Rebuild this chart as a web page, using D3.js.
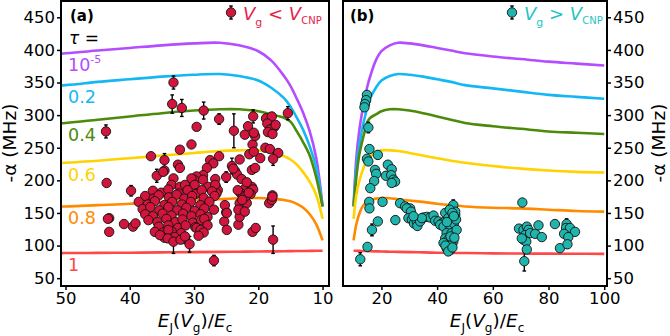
<!DOCTYPE html>
<html>
<head>
<meta charset="utf-8">
<script src="https://cdn.jsdelivr.net/npm/d3@7"></script>
<style>
  body { margin: 0; background: #fff; }
  text { font-family: "DejaVu Sans", sans-serif; }
</style>
</head>
<body>
<svg id="chart" width="670" height="336"></svg>
<script>
// tau values of the model curves (label text, superscript)
const tauLabels = [["10", "-5"], ["0.2", ""], ["0.4", ""], ["0.6", ""], ["0.8", ""], ["1", ""]];

// model curves: -alpha (MHz) sampled at these EJ/Ec values
const curveX = [10, 11, 12, 13, 14, 15, 16, 18, 20, 23, 26, 30, 35, 40, 45, 50, 60, 70, 80, 90, 100];
const curvePurple = [160, 235, 275, 303, 325, 345, 360, 384, 398, 407, 411, 410, 407, 403, 399, 395, 390, 386, 382, 379, 376];
const curveCyan   = [160, 220, 252, 277, 296, 313, 326, 342, 353, 360, 363, 362, 359, 355, 351, 346, 341, 336, 331, 328, 325];
const curveGreen  = [160, 205, 238, 258, 275, 290, 296, 301, 306, 309, 309, 307, 303, 298, 293, 288, 283, 279, 275, 273, 271];
const curveYellow = [141, 178, 198, 212, 224, 232, 237, 243, 246, 246, 245, 242, 238, 234, 230, 227, 222, 218, 215, 213, 212];
const curveOrange = [108, 133, 148, 158, 164, 168, 170, 172, 173, 172.5, 171, 169, 167, 164, 162, 160, 158, 157, 155, 153, 152];
const curveRed    = [92, 92, 91.8, 91.7, 91.6, 91.5, 91.3, 91.1, 91, 90.6, 90.3, 90, 89.5, 89, 88.8, 88.5, 88.1, 87.8, 87.6, 87.4, 87.3];
const curveAlpha = [curvePurple, curveCyan, curveGreen, curveYellow, curveOrange, curveRed];

// measured points, Vg < VCNP: [EJ/Ec, -alpha, error]
const lowPoints = [
  [43.7,275,10],[33.2,350,10],[33.4,317,14],[31.9,311,13],[28.5,307,13],[26.1,294,8],[29.6,282,4],[30.4,255,4],
  [32.2,247,4],[36.7,237,4],[34.6,231,10],[23.8,276,26],[22.1,270,4],[21.6,283,4],[20.8,298,10],[20.9,255,4],
  [20.5,268,4],[20.7,273,4],[21.4,240,4],[20.7,244,4],[19.7,234,4],[18.8,295,4],[17.9,298,4],[18.6,287,4],
  [17.5,282,4],[18.2,278,4],[17.3,285,4],[18.5,274,4],[17.8,271,4],[18.9,250,4],[18.2,248,4],[16.9,242,4],
  [17.7,233,10],[15.4,303,10],[22.9,232,4],[26.1,237,4],
  [24.1,222,12],[23.6,214,4],[23.3,209,4],[23.9,218,4],[27.5,231,4],[27.0,226,4],[28.0,219,4],[28.6,208,4],
  [29.6,206,4],[30.0,201,4],[26.7,202,4],[25.0,205,8],[22.6,202,4],[21.0,216,4],[20.5,219,4],[26.6,190,4],
  [26.3,185,4],[21.6,193,4],[22.2,186,4],[21.0,190,4],[22.8,181,4],[17.8,177,4],[32.5,224,4],[32.2,219,4],
  [35.8,207,10],[34.6,215,4],[43.6,196,4],[39.8,184,8],[21.8,197,4],[20.8,186,4],[22.4,176,4],[21.2,179,4],
  [34.8,213,4],[33.2,203,4],[33.5,193,4],[32.2,190,4],[31.4,193,4],[30.4,203,4],[29.9,193,4],[29.6,180,4],
  [28.6,201,4],[27.8,190,4],[26.7,193,4],[26.5,180,4],
  [36.4,184,4],[35.1,181,4],[34.0,186,4],[32.4,180,4],[31.0,185,4],[29.8,179,4],[28.8,185,4],[27.2,183,4],
  [37.6,176,4],[36.3,172,4],[35.5,177,4],[33.9,174,4],[32.7,178,4],[31.5,172,4],[30.3,176,4],[28.5,173,4],[26.8,176,4],
  [38.6,167,4],[37.2,163,4],[36.1,168,4],[34.6,162,4],[33.4,167,4],[31.9,163,4],[30.5,167,4],[29.0,162,4],[27.6,167,4],
  [38.0,156,4],[36.8,159,4],[35.4,154,4],[34.0,159,4],[32.6,154,4],[31.2,158,4],[29.9,153,4],[28.4,157,4],[26.9,155,4],
  [37.6,148,4],[36.4,145,4],[34.9,149,4],[33.5,146,4],[31.7,149,4],[30.4,145,4],[29.0,148,4],[27.9,144,4],
  [37.1,139,4],[35.7,136,4],[34.3,141,4],[32.9,136,4],[31.8,140,4],[30.2,135,4],[28.9,139,4],
  [35.5,129,4],[34.0,131,4],[32.5,127,4],[31.3,131,4],[29.8,128,4],
  [36.1,121,4],[34.8,120,4],[33.5,122,4],[32.0,119,4],
  [34.6,112,4],[33.0,113,4],[31.6,110,4],
  [43.2,142,4],[43.4,141,4],[43.2,121,4],[40.9,133,4],[39.5,129,4],[39.1,134,4],[35.3,116,4],[34.0,124,4],
  [34.1,111,4],[33.2,106,18],[32.1,109,4],[31.4,114,4],[30.7,102,12],[29.6,127,4],[26.9,77,8],[17.7,109,21],
  [25.3,137,10],[25.0,151,4],[23.1,132,4],[22.9,144,4],[20.9,121,4],[20.4,127,4],[18.3,165,4],[17.9,170,4],
  [17.8,175,4],[25.2,162,4],[24.9,150,4],[22.9,165,4],[21.8,165,4],[23.1,155,4],[22.1,152,4],[24.9,124,4],
  [22.0,175,4],[22.5,170,4],[21.5,181,4],[23.2,185,4],[28.4,141,4],[27.9,131,4],[29.0,124,4],[28.5,120,4],[29.3,115,4]
];

// measured points, Vg > VCNP: [EJ/Ec, -alpha, error]
const highPoints = [
  [14.8,331,5],[14.5,323,4],[14.1,317,4],[13.9,312,4],[15.3,281,8],[15.7,248,4],[14.8,233,4],[15.3,229,4],
  [18.7,239,6],[22.3,224,4],[23.7,217,4],[17.7,216,4],[18.1,210,4],[21.6,207,4],[23.5,208,4],[24.3,201,4],
  [24.9,198,4],[23.7,196,4],[17.4,199,4],[16.0,188,4],[15.6,167,4],[15.7,157,4],[20.4,167,4],[26.7,165,4],
  [28.5,160,4],[30.3,157,4],[29.1,157,4],[30.6,152,4],[18.7,137,4],[16.6,124,9],[15.0,98,5],[12.4,79,10],
  [25.0,139,6],[29.7,142,4],[30.9,140,4],[31.7,134,4],[32.7,137,4],[32.9,130,4],[33.9,137,4],[35.1,143,4],
  [36.3,144,4],[37.5,143,4],[38.7,146,4],[39.3,138,4],[40.5,137,4],[41.7,134,4],[42.9,137,4],[34.5,142,4],[31.5,145,4],
  [45.8,162,8],[42.9,150,4],[46.5,147,4],[44.0,142,4],[45.2,139,4],[41.1,132,4],[42.3,129,4],[45.8,129,4],
  [44.6,124,4],[43.4,119,4],[45.2,119,4],[42.9,111,4],[44.0,109,4],[45.8,106,4],[42.3,104,4],[45.2,101,4],
  [43.4,96,4],[44.6,93,4],[46.5,152,4],[46.0,134,4],[47.0,124,4],[44.5,155,4],[45.5,150,4],[46.8,140,4],
  [46.0,145,4],[43.5,136,4],[44.8,114,4],[46.2,112,4],[43.0,100,4],[44.0,91,4],[45.5,97,4],
  [70.6,166,4],[69.4,126,4],[71.0,124,4],[72.2,129,4],[72.8,124,4],[71.6,116,4],[73.4,119,4],[75.2,118,4],
  [76.4,131,4],[77.6,113,4],[71.0,109,4],[72.0,106,4],[70.4,111,4],[72.2,94,4],[71.3,76,15],[82.3,133,4],
  [86.5,133,8],[86.3,127,4],[87.7,127,4],[89.5,121,4],[85.6,118,4],[87.1,113,4],[84.1,96,4],[86.8,102,6]
];

const yTicks = [50, 100, 150, 200, 250, 300, 350, 400, 450];
const xTicksA = [50, 40, 30, 20, 10];
const xTicksB = [20, 40, 60, 80, 100];

const curveColors = ["#b44cff", "#14b7f3", "#4b8a0b", "#ffd200", "#ff8a00", "#ff4848"];

const svg = d3.select("#chart");
const plotTop = 1, plotBottom = 286;
const yScale = d3.scaleLinear().domain([38, 475]).range([plotBottom, plotTop]);

const panels = [
  { tag: "(a)", x: d3.scaleLinear().domain([50.7, 9]).range([61, 329]), ticks: xTicksA,
    points: lowPoints, fill: "#d2153c", textColor: "#e61d4a", rel: " < ", legendX: 231, side: "left" },
  { tag: "(b)", x: d3.scaleLinear().domain([6.2, 101]).range([343, 607]), ticks: xTicksB,
    points: highPoints, fill: "#20b4ad", textColor: "#1fc4c4", rel: " > ", legendX: 512, side: "right" }
];

panels.forEach((p, pi) => {
  const [x0, x1] = p.x.range();
  const clipId = "clip" + pi;
  svg.append("clipPath").attr("id", clipId)
    .append("rect").attr("x", x0).attr("y", plotTop).attr("width", x1 - x0).attr("height", plotBottom - plotTop);

  const plot = svg.append("g").attr("clip-path", `url(#${clipId})`);

  // model curves
  const line = d3.line()
    .x(d => p.x(d[0]))
    .y(d => yScale(d[1]))
    .curve(d3.curveCatmullRom.alpha(0.5));

  curveAlpha.forEach((vals, i) => {
    plot.append("path")
      .datum(curveX.map((cx, j) => [cx, vals[j]]))
      .attr("d", line)
      .attr("fill", "none")
      .attr("stroke", curveColors[i])
      .attr("stroke-width", 2.6);
  });

  // error bars
  const eb = plot.append("g").attr("stroke", "#000").attr("stroke-width", 1.4);
  p.points.forEach(d => {
    const cx = p.x(d[0]);
    const ya = yScale(d[1] - d[2]), yb = yScale(d[1] + d[2]);
    eb.append("line").attr("x1", cx).attr("x2", cx).attr("y1", ya).attr("y2", yb);
    eb.append("line").attr("x1", cx - 1.8).attr("x2", cx + 1.8).attr("y1", ya).attr("y2", ya);
    eb.append("line").attr("x1", cx - 1.8).attr("x2", cx + 1.8).attr("y1", yb).attr("y2", yb);
  });

  // markers
  plot.append("g").selectAll("circle")
    .data(p.points)
    .enter()
    .append("circle")
    .attr("cx", d => p.x(d[0]))
    .attr("cy", d => yScale(d[1]))
    .attr("r", 4.7)
    .attr("fill", p.fill)
    .attr("stroke", "#111")
    .attr("stroke-width", 0.9);

  // frame
  svg.append("rect")
    .attr("x", x0).attr("y", plotTop).attr("width", x1 - x0).attr("height", plotBottom - plotTop)
    .attr("fill", "none").attr("stroke", "#000").attr("stroke-width", 2);

  // x axis
  const xAxis = svg.append("g")
    .attr("transform", `translate(0,${plotBottom})`)
    .call(d3.axisBottom(p.x).tickValues(p.ticks).tickSize(4).tickPadding(2).tickFormat(d3.format("d")));
  xAxis.select(".domain").remove();
  xAxis.selectAll(".tick line").attr("stroke-width", 1.5);
  xAxis.selectAll(".tick text").attr("font-size", 16.5).attr("fill", "#000")
    .style("font-family", "DejaVu Sans");

  // y axis
  const yAxis = svg.append("g")
    .attr("transform", `translate(${p.side === "left" ? x0 : x1},0)`)
    .call((p.side === "left" ? d3.axisLeft(yScale) : d3.axisRight(yScale))
      .tickValues(yTicks).tickSize(4).tickPadding(2));
  yAxis.select(".domain").remove();
  yAxis.selectAll(".tick line").attr("stroke-width", 1.5);
  yAxis.selectAll(".tick text").attr("font-size", 16.5).attr("fill", "#000")
    .style("font-family", "DejaVu Sans");

  // y label
  svg.append("text")
    .attr("transform", `translate(${p.side === "left" ? 16 : 665},143) rotate(-90)`)
    .attr("text-anchor", "middle")
    .attr("font-size", 18.5)
    .text("-\u03B1 (MHz)");

  // x label
  const xl = svg.append("text")
    .attr("x", (x0 + x1) / 2 + (pi === 0 ? 0 : 12))
    .attr("y", 327)
    .attr("text-anchor", "middle")
    .attr("font-size", 18.5);
  xl.append("tspan").attr("font-style", "italic").text("E");
  xl.append("tspan").attr("font-size", 12).attr("dy", 5).text("J");
  xl.append("tspan").attr("dy", -5).text("(");
  xl.append("tspan").attr("font-style", "italic").text("V");
  xl.append("tspan").attr("font-size", 12).attr("dy", 5).text("g");
  xl.append("tspan").attr("dy", -5).text(")/");
  xl.append("tspan").attr("font-style", "italic").text("E");
  xl.append("tspan").attr("font-size", 12).attr("dy", 5).text("c");

  // panel tag
  svg.append("text")
    .attr("x", x0 + (pi === 0 ? 9 : 7))
    .attr("y", 21)
    .attr("font-size", 15)
    .attr("font-weight", "bold")
    .text(p.tag);

  // legend
  const lx = p.legendX, ly = 12.5;
  const lg = svg.append("g").attr("stroke", "#000").attr("stroke-width", 1.4);
  lg.append("line").attr("x1", lx).attr("x2", lx).attr("y1", ly - 6.5).attr("y2", ly + 6.5);
  lg.append("line").attr("x1", lx - 1.8).attr("x2", lx + 1.8).attr("y1", ly - 6.5).attr("y2", ly - 6.5);
  lg.append("line").attr("x1", lx - 1.8).attr("x2", lx + 1.8).attr("y1", ly + 6.5).attr("y2", ly + 6.5);
  svg.append("circle").attr("cx", lx).attr("cy", ly).attr("r", 4.7)
    .attr("fill", p.fill).attr("stroke", "#111").attr("stroke-width", 0.9);

  const lt = svg.append("text")
    .attr("x", lx + 12).attr("y", 20)
    .attr("font-size", 18)
    .attr("fill", p.textColor);
  lt.append("tspan").attr("font-style", "italic").text("V");
  lt.append("tspan").attr("font-size", 11).attr("dy", 6).text("g");
  lt.append("tspan").attr("dy", -6).text(p.rel);
  lt.append("tspan").attr("font-style", "italic").text("V");
  lt.append("tspan").attr("font-size", 10).attr("dy", 4).text("CNP");
});

// tau labels in panel (a)
svg.append("text")
  .attr("x", 69).attr("y", 44)
  .attr("font-size", 17)
  .html('<tspan font-style="italic">\u03C4</tspan> =');

const i50 = curveX.indexOf(50);
tauLabels.forEach((lab, i) => {
  const t = svg.append("text")
    .attr("x", 68)
    .attr("y", yScale(curveAlpha[i][i50]) + 18)
    .attr("font-size", 17.5)
    .attr("fill", curveColors[i]);
  t.append("tspan").text(lab[0]);
  if (lab[1]) t.append("tspan").attr("font-size", 11).attr("dy", -8).text(lab[1]);
});
</script>
</body>
</html>
